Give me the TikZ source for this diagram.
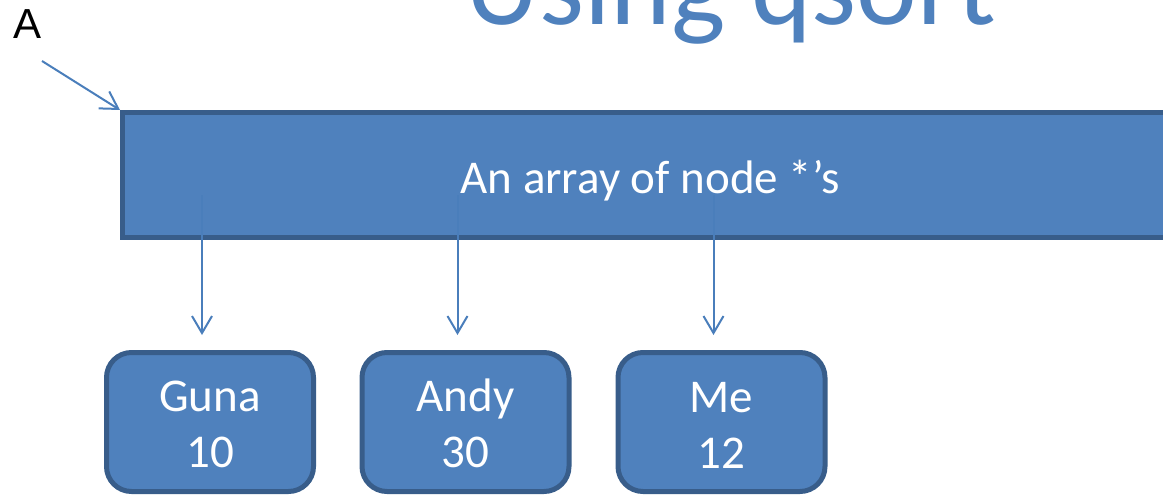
\documentclass[tikz,border=0pt]{standalone}
\usepackage{fontspec}
\setmainfont{Carlito}
\newfontfamily\labelfont{Liberation Sans}
\usetikzlibrary{arrows.meta}
\definecolor{fillblue}{HTML}{4F81BD}
\definecolor{edgeblue}{HTML}{385D8A}
\definecolor{lineblue}{HTML}{4A7EBB}
\newcommand\capstrut{\rule{0pt}{36pt}}
\begin{document}
\begin{tikzpicture}[x=1pt,y=-1pt,
  box/.style={draw=edgeblue, line width=5pt, fill=fillblue, text=white, align=center,
    font=\fontsize{47}{56}\selectfont, inner sep=0pt},
  card/.style={box, rounded corners=25pt, minimum width=207pt, minimum height=139pt},
  ptr/.style={draw=lineblue, line width=2pt,
    -{Straight Barb[length=17pt,width=20pt,line width=2pt]}},
  bigtext/.style={text=white, font=\fontsize{47}{58}\selectfont, inner sep=0pt, anchor=base},
]
\useasboundingbox (0,0) rectangle (1163,495);
\clip (0,0) rectangle (1163,495);

% title (cut off at top)
\node[anchor=base, text=fillblue, inner sep=0pt, font=\fontsize{115}{138}\selectfont] (title) at (731,25) {Using qsort};

% label A
\node[anchor=base west, inner sep=0pt, font=\labelfont\fontsize{42}{50}\selectfont] (alabel) at (13,39) {A};

% array of pointers
\node[box, minimum width=1070pt, minimum height=125pt, anchor=north west] (arr) at (120,110) {};
\node[bigtext] (arrtext) at (650,193) {An array of node *’s};

% pointer A
\coordinate (atail) at (42,61);
\draw[ptr] (atail) -- (arr.north west);

% records
\node[card] (guna) at (210,422) {\capstrut Guna\\10};
\node[card] (andy) at (465.5,422) {\capstrut Andy\\30};
\node[card] (me)   at (721.5,422) {\capstrut Me\\12};

% pointers from array slots
\coordinate (p1) at (202,195);
\coordinate (p2) at (457.5,195);
\coordinate (p3) at (713.5,195);
\coordinate (q1) at (202,335);
\coordinate (q2) at (457.5,335);
\coordinate (q3) at (713.5,335);
\draw[ptr] (p1) -- (q1);
\draw[ptr] (p2) -- (q2);
\draw[ptr] (p3) -- (q3);
\end{tikzpicture}
\end{document}
